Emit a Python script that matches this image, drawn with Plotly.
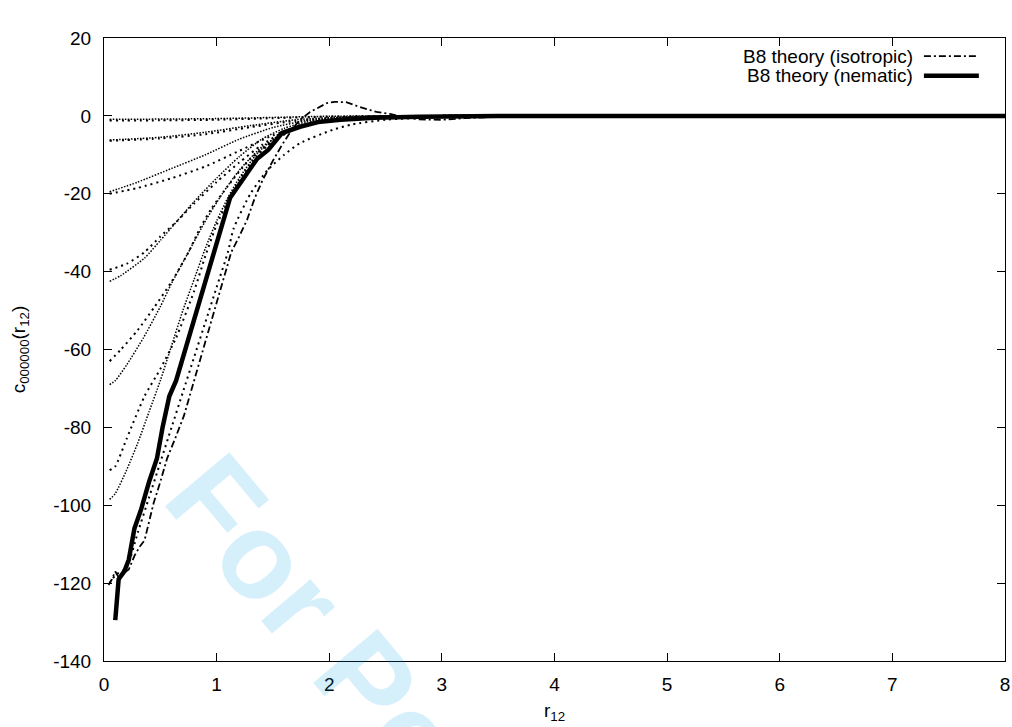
import plotly.graph_objects as go

# ---------------- data ----------------
# B8 theory curves
iso_x = [0.04, 0.07, 0.10, 0.13, 0.17, 0.22, 0.27, 0.32, 0.36, 0.40, 0.44, 0.50, 0.56, 0.63, 0.71, 0.80, 0.89, 0.97, 1.04, 1.13, 1.20, 1.27, 1.34, 1.41, 1.50, 1.59, 1.67, 1.74, 1.83, 1.92, 1.98, 2.05, 2.15, 2.27, 2.42, 2.54, 2.65, 2.80, 3.00, 3.20, 3.50, 4.00, 8.00]
iso_y = [-120.5, -119.0, -117.0, -118.5, -117.5, -116.5, -113.0, -110.5, -109.0, -104.0, -99.5, -94.0, -88.0, -83.0, -77.0, -68.0, -59.0, -51.0, -44.0, -35.0, -31.0, -26.7, -21.0, -16.4, -11.5, -7.0, -3.5, -1.0, 1.0, 2.5, 3.3, 3.6, 3.5, 2.3, 1.0, 0.5, -0.3, -0.9, -1.0, -0.6, -0.2, 0.0, 0.0]

nem_x = [0.10, 0.13, 0.18, 0.22, 0.27, 0.33, 0.40, 0.47, 0.52, 0.58, 0.64, 0.70, 0.75, 0.82, 0.90, 0.97, 1.05, 1.12, 1.24, 1.36, 1.46, 1.58, 1.74, 1.90, 2.10, 2.40, 2.80, 3.50, 8.00]
nem_y = [-129.5, -119.0, -117.0, -114.0, -106.0, -101.0, -94.0, -88.0, -80.0, -72.0, -68.0, -62.0, -57.0, -50.0, -42.0, -35.0, -28.0, -21.0, -16.0, -11.0, -8.7, -4.4, -2.8, -1.6, -1.0, -0.5, -0.2, 0.0, 0.0]

# simulation curves: loosely dotted ("dashed") set
da_x = [0.05, 0.5, 1.0, 1.5, 2.0, 2.5, 3.0, 8.0]
da_y = [-1.2, -1.15, -1.0, -0.6, -0.2, -0.05, 0.0, 0.0]
db_x = [0.05, 0.5, 0.9, 1.3, 1.7, 2.2, 3.0, 8.0]
db_y = [-6.4, -5.8, -4.7, -2.9, -1.3, -0.3, 0.0, 0.0]
dc_x = [0.05, 0.3, 0.6, 0.9, 1.2, 1.5, 1.8, 2.2, 3.0, 8.0]
dc_y = [-20.0, -18.5, -16.0, -13.0, -9.0, -5.0, -2.3, -0.6, 0.0, 0.0]
dd_x = [0.05, 0.2, 0.36, 0.5, 0.65, 0.8, 1.0, 1.2, 1.4, 1.6, 1.8, 2.1, 2.5, 3.0, 8.0]
dd_y = [-39.5, -38.0, -35.0, -31.0, -27.0, -22.5, -17.0, -12.0, -7.5, -4.0, -2.0, -0.7, -0.2, 0.0, 0.0]
de_x = [0.05, 0.15, 0.3, 0.45, 0.6, 0.75, 0.85, 0.95, 1.1, 1.3, 1.5, 1.7, 2.0, 2.5, 3.0, 8.0]
de_y = [-63.0, -60.0, -55.0, -49.0, -42.6, -35.0, -29.0, -24.0, -18.0, -11.0, -6.5, -3.3, -1.2, -0.2, 0.0, 0.0]
df_x = [0.05, 0.1, 0.2, 0.36, 0.5, 0.64, 0.8, 0.9, 1.0, 1.1, 1.2, 1.35, 1.5, 1.7, 2.0, 2.5, 3.0, 8.0]
df_y = [-91.0, -90.0, -83.0, -72.0, -65.0, -57.0, -45.0, -36.0, -28.0, -22.0, -16.5, -10.5, -6.5, -3.2, -1.2, -0.2, 0.0, 0.0]
dg_x = [0.05, 0.1, 0.2, 0.3, 0.4, 0.5, 0.6, 0.7, 0.8, 0.9, 1.0, 1.1, 1.15, 1.3, 1.45, 1.6, 1.74, 2.03, 2.2, 2.5, 3.0, 3.5, 8.0]
dg_y = [-120.0, -118.0, -116.0, -107.0, -98.0, -89.0, -80.0, -71.0, -62.0, -53.0, -44.0, -35.0, -29.0, -20.0, -14.0, -10.0, -7.0, -3.6, -2.2, -1.0, -0.3, 0.0, 0.0]

# simulation curves: finely dotted set
pa_x = [0.05, 1.0, 1.5, 2.0, 3.0, 8.0]
pa_y = [-0.9, -0.7, -0.4, -0.1, 0.0, 0.0]
pb_x = [0.05, 0.5, 0.9, 1.3, 1.7, 2.2, 3.0, 8.0]
pb_y = [-6.2, -5.5, -4.2, -2.5, -1.0, -0.2, 0.0, 0.0]
pc_x = [0.05, 0.3, 0.6, 0.9, 1.2, 1.5, 1.8, 2.2, 3.0, 8.0]
pc_y = [-19.5, -17.0, -13.5, -10.0, -6.0, -3.0, -1.2, -0.3, 0.0, 0.0]
pd_x = [0.05, 0.15, 0.36, 0.5, 0.65, 0.8, 1.0, 1.2, 1.4, 1.6, 1.8, 2.1, 2.5, 3.0, 8.0]
pd_y = [-42.5, -41.0, -36.5, -32.0, -27.0, -22.0, -16.0, -10.5, -6.0, -3.2, -1.5, -0.5, -0.1, 0.0, 0.0]
pe_x = [0.05, 0.1, 0.2, 0.35, 0.5, 0.6, 0.75, 0.9, 1.05, 1.2, 1.4, 1.6, 1.8, 2.1, 2.5, 3.0, 8.0]
pe_y = [-69.0, -68.0, -64.0, -57.0, -49.0, -43.0, -35.0, -27.0, -20.0, -14.0, -8.0, -4.5, -2.2, -0.8, -0.2, 0.0, 0.0]
pf_x = [0.05, 0.1, 0.2, 0.3, 0.4, 0.5, 0.6, 0.7, 0.8, 0.9, 1.0, 1.1, 1.2, 1.35, 1.5, 1.7, 2.0, 2.5, 3.0, 8.0]
pf_y = [-98.5, -97.0, -91.0, -84.0, -76.0, -68.0, -59.0, -50.0, -42.0, -34.0, -27.0, -21.0, -16.0, -10.0, -6.0, -3.0, -1.0, -0.2, 0.0, 0.0]

x_ticks = [0, 1, 2, 3, 4, 5, 6, 7, 8]
y_ticks = [-140, -120, -100, -80, -60, -40, -20, 0, 20]

legend_names = ["B8 theory (isotropic)", "B8 theory (nematic)"]

# ---------------- figure ----------------
FONT = "Liberation Sans, Arial, Helvetica, sans-serif"
FS = 19
fig = go.Figure()

# watermark (translucent so that the black text beneath still shows)
fig.add_annotation(text="<b>For Peer Review</b>", xref="paper", yref="paper",
                   x=0.4365, y=-0.283, xanchor="center", yanchor="middle",
                   showarrow=False, textangle=50,
                   font=dict(family=FONT, size=122, color="rgba(0,160,230,0.16)"))

LOOSE = "2px,4px"
FINE = "1.5px,1.5px"
for xs, ys in [(da_x, da_y), (db_x, db_y), (dc_x, dc_y), (dd_x, dd_y),
               (de_x, de_y), (df_x, df_y), (dg_x, dg_y)]:
    fig.add_trace(go.Scatter(x=xs, y=ys, mode="lines", showlegend=False,
                             line=dict(color="black", width=2, dash=LOOSE, shape="spline", smoothing=0.6)))
for xs, ys in [(pa_x, pa_y), (pb_x, pb_y), (pc_x, pc_y), (pd_x, pd_y),
               (pe_x, pe_y), (pf_x, pf_y)]:
    fig.add_trace(go.Scatter(x=xs, y=ys, mode="lines", showlegend=False,
                             line=dict(color="black", width=1.5, dash=FINE, shape="spline", smoothing=0.6)))

DASHDOT = "7px,3px,2px,3px"
fig.add_trace(go.Scatter(x=iso_x, y=iso_y, mode="lines", name=legend_names[0], showlegend=False,
                         line=dict(color="black", width=1.8, dash=DASHDOT)))
fig.add_trace(go.Scatter(x=nem_x, y=nem_y, mode="lines", name=legend_names[1], showlegend=False,
                         line=dict(color="black", width=4.5)))

# legend drawn gnuplot-style (text then sample)
leg_y = [0.971, 0.9395]
leg_dash = [DASHDOT, "solid"]
leg_w = [1.8, 4.5]
for name, yy, d, w in zip(legend_names, leg_y, leg_dash, leg_w):
    fig.add_annotation(text=name, xref="paper", yref="paper", x=0.9000, y=yy,
                       xanchor="right", yanchor="middle", showarrow=False,
                       font=dict(family=FONT, size=FS, color="black"))
    fig.add_shape(type="line", xref="paper", yref="paper", x0=0.910, x1=0.971, y0=yy, y1=yy,
                  line=dict(color="black", width=w, dash=d))

axis_common = dict(showline=True, linecolor="black", linewidth=1, mirror="ticks",
                   ticks="inside", ticklen=8, tickcolor="black", tickwidth=1,
                   showgrid=False, zeroline=False, automargin=False,
                   tickfont=dict(family=FONT, size=FS, color="black"))

fig.update_xaxes(range=[0, 8], tickvals=x_ticks, ticktext=[str(v) for v in x_ticks],
                 ticklabelstandoff=6,
                 title=dict(text="r<sub>12</sub>", font=dict(family=FONT, size=FS, color="black"), standoff=9),
                 **axis_common)
fig.update_yaxes(range=[-140, 20], tickvals=y_ticks, ticktext=[str(v) for v in y_ticks],
                 ticklabelstandoff=8,
                 title=dict(text="c<sub>000000</sub>(r<sub>12</sub>)", font=dict(family=FONT, size=FS, color="black"), standoff=22),
                 **axis_common)

fig.update_layout(width=1012, height=727, margin=dict(l=104, r=7, t=38, b=66, autoexpand=False),
                  plot_bgcolor="white", paper_bgcolor="white", showlegend=False)

fig.write_html("out.html")
